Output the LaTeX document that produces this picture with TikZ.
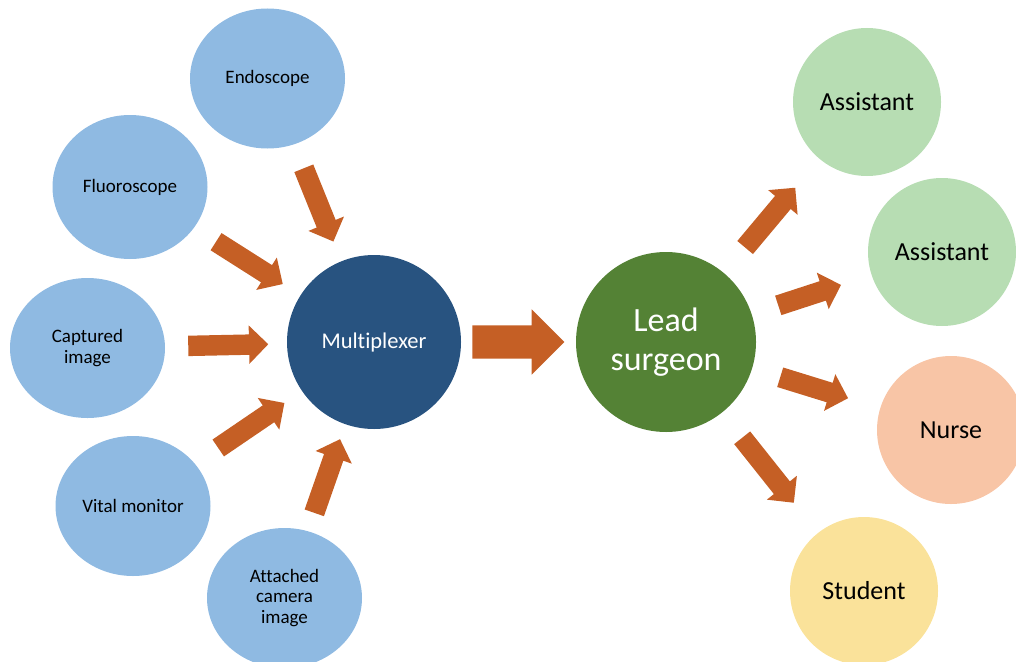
\documentclass[tikz,border=0pt]{standalone}
\usepackage{fontspec}
\setmainfont{Carlito}[Ligatures=NoCommon]
\usetikzlibrary{shapes.geometric,shapes.arrows}
\definecolor{srcblue}{HTML}{8FBAE2}
\definecolor{muxblue}{HTML}{285380}
\definecolor{leadgreen}{HTML}{548235}
\definecolor{helpgreen}{HTML}{B7DDB3}
\definecolor{nursepink}{HTML}{F8C5A6}
\definecolor{studyellow}{HTML}{FAE29A}
\definecolor{feedorange}{HTML}{C55F25}

\begin{document}
\begin{tikzpicture}[x=1pt,y=-1pt,
    src/.style={ellipse, fill=srcblue, minimum width=155pt, minimum height=140pt,
      inner sep=0pt, align=center, font=\fontsize{19}{20.5}\selectfont},
    dst/.style={circle, minimum size=148pt, inner sep=0pt,
      font=\fontsize{26}{30}\selectfont},
    feed/.style={single arrow, fill=feedorange, inner xsep=0pt, inner ysep=10pt,
      single arrow head extend=9pt, minimum height=#1, anchor=tail,
      sloped, allow upside down}]
        \clip (0,0) rectangle (1016,661);
        % sources
        \node[src] (endo) at (267.5,78.5) {Endoscope};
        \node[src, minimum height=144pt] (fluoro) at (130,187) {Fluoroscope};
        \node[src] (capt) at (87.5,348) {Captured\\image};
        \node[src] (vital) at (133,506) {Vital monitor};
        \node[src] (cam) at (284.5,598) {Attached\\camera\\image};
        % hub
        \node[circle, fill=muxblue, minimum size=174pt, inner sep=0pt, text=white,
              font=\fontsize{22.5}{26}\selectfont] (mux) at (374,342) {Multiplexer};
        \node[circle, fill=leadgreen, minimum size=180pt, inner sep=0pt, text=white,
              align=center, font=\fontsize{34}{39}\selectfont] (lead) at (666,342) {Lead\\surgeon};
        % receivers
        \node[dst, fill=helpgreen] (asst1) at (867,102) {Assistant};
        \node[dst, fill=helpgreen] (asst2) at (942,252) {Assistant};
        \node[dst, fill=nursepink] (nurse) at (951,430) {Nurse};
        \node[dst, fill=studyellow] (stud) at (864,591) {Student};
        % arrows
        \path (endo.center) -- node[feed=79pt, pos=0.34] {} (mux.center);
        \path (fluoro.center) -- node[feed=79pt, pos=0.352] {} (mux.center);
        \path (capt.center) -- node[feed=80pt, pos=0.351] {} (mux.center);
        \path (vital.center) -- node[feed=80pt, pos=0.353] {} (mux.center);
        \path (cam.center) -- node[feed=78pt, pos=0.332] {} (mux.center);
        \path (mux.center) -- node[feed=92pt, inner ysep=16.5pt,
              single arrow head extend=16pt, pos=0.336] {} (lead.center);
        \path (lead.center) -- node[feed=78pt, pos=0.393] {} (asst1.center);
        \path (lead.center) -- node[feed=66pt, pos=0.406] {} (asst2.center);
        \path (lead.center) -- node[feed=71pt, pos=0.4] {} (nurse.center);
        \path (lead.center) -- node[feed=83pt, pos=0.384] {} (stud.center);
\end{tikzpicture}
\end{document}
